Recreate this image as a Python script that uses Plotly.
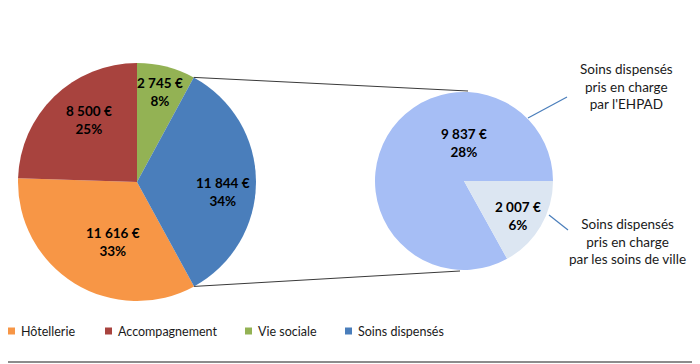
import math
import plotly.graph_objects as go

# ---- data ----
categories = ["Hôtellerie", "Accompagnement", "Vie sociale", "Soins dispensés"]
values = [11616, 8500, 2745, 11844]
pct_labels = [33, 25, 8, 34]

sub_categories = ["Soins dispensés pris en charge par l'EHPAD",
                  "Soins dispensés pris en charge par les soins de ville"]
sub_values = [9837, 2007]
sub_pct_labels = [28, 6]
sub_notes = ["Soins dispensés<br>pris en charge<br>par l'EHPAD",
             "Soins dispensés<br>pris en charge<br>par les soins de ville"]

colors = ["#F79646", "#A8433E", "#93B254", "#4A7EBB"]
sub_colors = ["#A6BEF5", "#DCE6F2"]

# ---- layout helpers (page body has an 8px margin) ----
OFF = 8
FW, FH = 700 - OFF, 364 - OFF
FONT = "Lato"
TXT = "#1a1a1a"


def px(x):
    return (x - OFF) / FW


def py(y):
    return 1 - (y - OFF) / FH


def euro(v):
    return f"{v:,}".replace(",", " ") + " €"


texts = [f"{euro(v)}<br>{p}%" for v, p in zip(values, pct_labels)]
sub_texts = [f"{euro(v)}<br>{p}%" for v, p in zip(sub_values, sub_pct_labels)]

total = sum(values)
sub_total = sum(sub_values)
# first slice (Hôtellerie) starts after Vie sociale + Soins (clockwise from 12 o'clock)
rot_main = (values[2] + values[3]) / total * 360
rot_sub = 90 + sub_values[1] / sub_total * 360

# pie geometry (screen px): center and radius
main_c, main_r = (137, 182), 119
sub_c, sub_r = (464, 181), 89


def domain(c, r):
    return dict(x=[px(c[0] - r), px(c[0] + r)], y=[py(c[1] + r), py(c[1] - r)])


fig = go.Figure()
fig.add_trace(go.Pie(
    labels=categories, values=values, text=texts, textinfo="none",
    sort=False, direction="clockwise", rotation=rot_main,
    marker=dict(colors=colors, line=dict(width=0)),
    domain=domain(main_c, main_r), hoverinfo="label+value", showlegend=False,
))
fig.add_trace(go.Pie(
    labels=sub_categories, values=sub_values, text=sub_texts, textinfo="none",
    sort=False, direction="clockwise", rotation=rot_sub,
    marker=dict(colors=sub_colors, line=dict(width=0)),
    domain=domain(sub_c, sub_r), hoverinfo="label+value", showlegend=False,
))


def pt(c, r, ang_deg, frac=1.0):
    a = math.radians(ang_deg)
    return c[0] + frac * r * math.sin(a), c[1] - frac * r * math.cos(a)


def mid_angles(vals, rot):
    out, acc = [], rot
    s = sum(vals)
    for v in vals:
        span = v / s * 360
        out.append(acc + span / 2)
        acc += span
    return out


annotations = []
# slice labels: placed along the slice bisector (angle shift, radial fraction)
label_place_main = [(-9.6, 0.54), (6, 0.66), (0, 0.78), (7, 0.73)]
label_place_sub = [(59.5, 0.43), (2.5, 0.72)]
for txts, vals, rot, c, r, place in [
        (texts, values, rot_main, main_c, main_r, label_place_main),
        (sub_texts, sub_values, rot_sub, sub_c, sub_r, label_place_sub)]:
    for t, m, (sh, fr) in zip(txts, mid_angles(vals, rot), place):
        x, y = pt(c, r, m + sh, fr)
        annotations.append(dict(text=t, x=px(x), y=py(y), xref="paper", yref="paper",
                                xanchor="center", yanchor="middle", showarrow=False,
                                align="center",
                                font=dict(family=FONT, size=13.5, color="black", weight="bold")))


def line(ax, ay, bx, by, color, width):
    return dict(type="line", xref="paper", yref="paper",
                x0=px(ax), y0=py(ay), x1=px(bx), y1=py(by),
                line=dict(color=color, width=width))


shapes = []
# connectors from the "Soins dispensés" slice to the detail pie
p1 = pt(main_c, main_r, values[2] / total * 360)
p2 = pt(main_c, main_r, rot_main)
q1 = (sub_c[0] + 4, sub_c[1] - sub_r - 1)
q2 = (sub_c[0] - 4, sub_c[1] + sub_r + 1)
for (ax, ay), (bx, by) in [(p1, q1), (p2, q2)]:
    shapes.append(line(ax, ay, bx, by, "#3a3a3a", 1))
# leader lines for callouts
for (ax, ay), (bx, by) in [((528, 118), (567, 97)), ((549, 215), (568, 230))]:
    shapes.append(line(ax, ay, bx, by, "#4A7EBB", 1.2))
# bottom frame line
shapes.append(line(OFF, 362, 700, 362, "#8c8c8c", 2))

for note, (nx, ny) in zip(sub_notes, [(626, 86), (627, 241)]):
    annotations.append(dict(text=note, x=px(nx), y=py(ny), xref="paper", yref="paper",
                            xanchor="center", yanchor="middle", showarrow=False,
                            align="center", font=dict(family=FONT, size=13.5, color=TXT)))

# legend row (swatch + label)
legend_x = [8, 105, 245, 345]
legend_y = 331
for cat, col, lx in zip(categories, colors, legend_x):
    shapes.append(dict(type="rect", xref="paper", yref="paper",
                       x0=px(lx), x1=px(lx + 7),
                       y0=py(legend_y + 3.5), y1=py(legend_y - 3.5),
                       fillcolor=col, line=dict(width=0)))
    annotations.append(dict(text=cat, x=px(lx + 11), y=py(legend_y),
                            xref="paper", yref="paper", xanchor="left", yanchor="middle",
                            showarrow=False, font=dict(family=FONT, size=12.5, color=TXT)))

fig.update_layout(
    width=FW, height=FH, margin=dict(l=0, r=0, t=0, b=0),
    paper_bgcolor="white", plot_bgcolor="white",
    shapes=shapes, annotations=annotations, showlegend=False,
)

fig.write_html("out.html")
